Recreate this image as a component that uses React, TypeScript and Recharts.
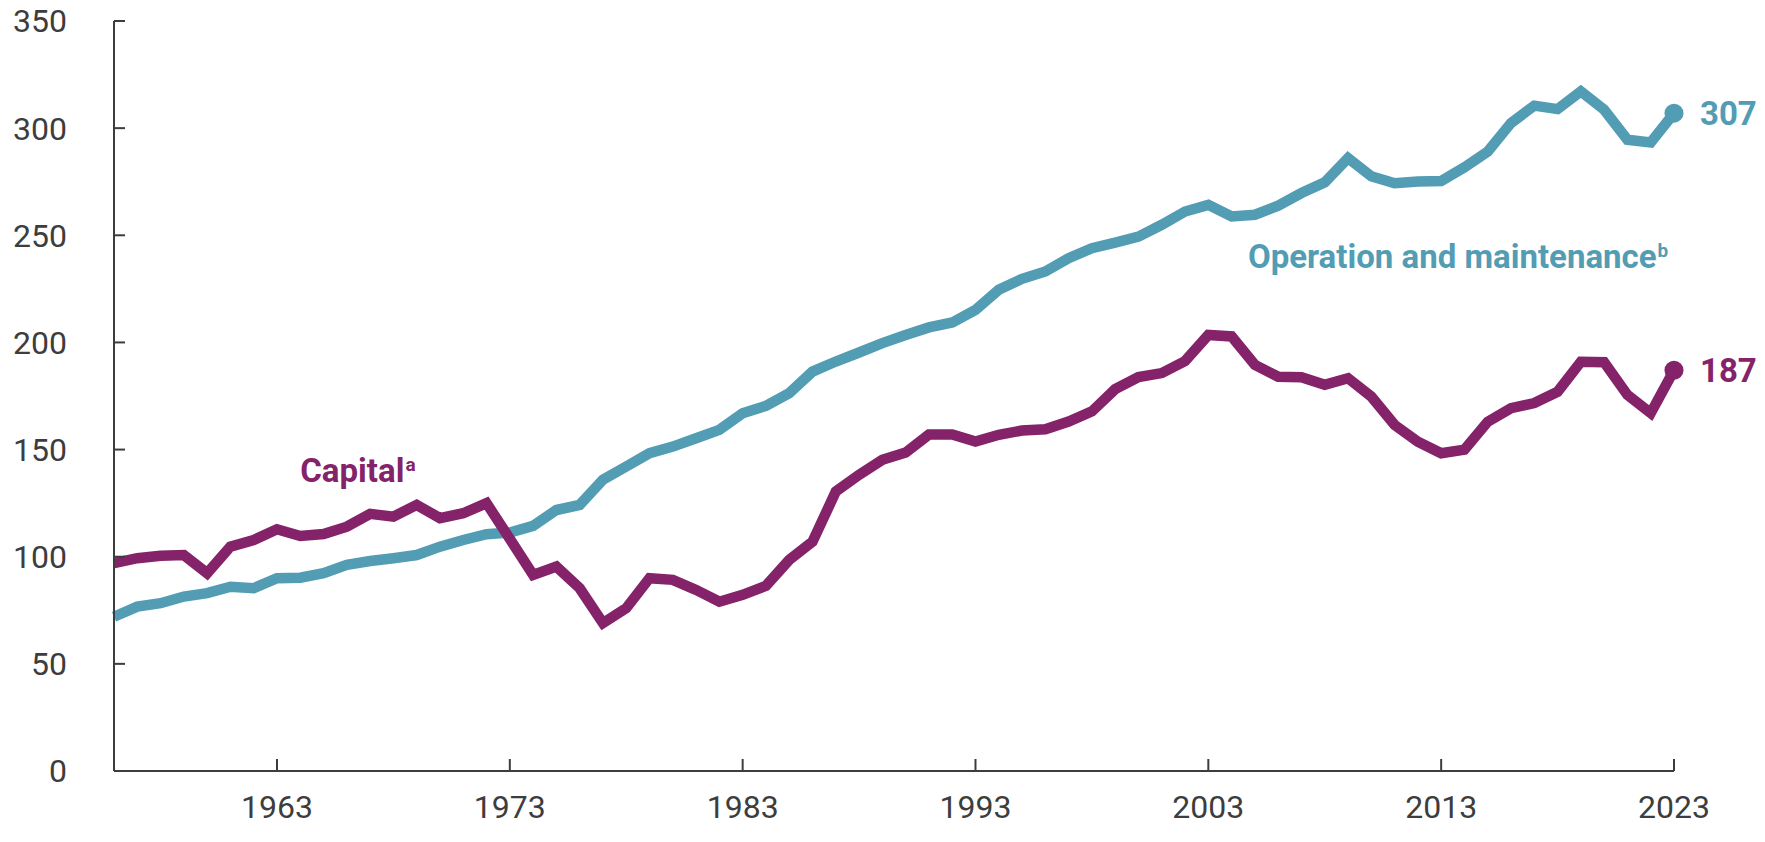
import { LineChart, Line, XAxis, YAxis, ReferenceDot, LabelList } from "recharts";

const years = [
  1956, 1957, 1958, 1959, 1960, 1961, 1962, 1963, 1964, 1965, 1966, 1967, 1968, 1969,
  1970, 1971, 1972, 1973, 1974, 1975, 1976, 1977, 1978, 1979, 1980, 1981, 1982, 1983,
  1984, 1985, 1986, 1987, 1988, 1989, 1990, 1991, 1992, 1993, 1994, 1995, 1996, 1997,
  1998, 1999, 2000, 2001, 2002, 2003, 2004, 2005, 2006, 2007, 2008, 2009, 2010, 2011,
  2012, 2013, 2014, 2015, 2016, 2017, 2018, 2019, 2020, 2021, 2022, 2023,
];

// billions of dollars
const capital = [
  97, 99.3, 100.4, 100.8, 92.3, 104.7, 107.8, 112.8, 109.7, 110.6, 114, 120, 118.7, 124.2,
  118, 120.3, 125, 108.3, 91.5, 95.4, 85.3, 69, 76, 90, 89.2, 84.5, 79, 82.2,
  86.4, 98.5, 107, 130.4, 138.2, 145.2, 148.6, 157, 157, 153.7, 156.9, 158.9, 159.5, 163.1,
  167.8, 178.2, 183.8, 185.7, 191.3, 203.5, 202.8, 189.5, 184, 183.8, 180.2, 183.3, 174.7, 161.5,
  153.7, 148.3, 150, 163, 169.3, 171.7, 177, 191, 190.8, 175.5, 167, 187,
];

const operation = [
  72, 76.7, 78.3, 81.4, 83, 86, 85.3, 90, 90.2, 92.3, 96.2, 98, 99.3, 100.8,
  104.7, 107.8, 110.5, 111.3, 114.4, 121.8, 124.2, 135.9, 142.1, 148.3, 151.4, 155.3, 159.2, 167,
  170.4, 176.3, 186.4, 191.1, 195.3, 199.7, 203.5, 207, 209.3, 215.2, 224.6, 229.7, 233.1, 239.3,
  244, 246.6, 249.4, 254.9, 261.1, 264.2, 258.8, 259.6, 263.8, 269.7, 274.7, 286, 277.5, 274.3,
  275.1, 275.3, 281.7, 289.1, 302.4, 310.5, 308.9, 317.2, 308.6, 294.6, 293.3, 307,
];

const yTicks = [0, 50, 100, 150, 200, 250, 300, 350];
const xTicks = [1963, 1973, 1983, 1993, 2003, 2013, 2023];

const PURPLE = "#84226a";
const TEAL = "#529cb4";
const AXIS = "#3d3d3d";
const FONT = "Roboto, 'Noto Sans', sans-serif";

const data = years.map((year, i) => ({
  year,
  capital: capital[i],
  operation: operation[i],
}));
const last = years.length - 1;

const endDot = (color: string) => (props: any) => {
  const { cx, cy, index } = props;
  if (index !== last) return <g key={`d-${index}`} />;
  return <circle key={`d-${index}`} cx={cx} cy={cy} r={9.5} fill={color} />;
};

const endLabel = (color: string) => (props: any) => {
  const { index, value } = props;
  if (index !== last) return null;
  const x = props.x ?? props.viewBox?.x;
  const y = props.y ?? props.viewBox?.y;
  return (
    <text
      x={x + 26}
      y={y}
      dy="0.36em"
      fill={color}
      fontFamily={FONT}
      fontWeight={700}
      fontSize={33}
    >
      {value}
    </text>
  );
};

const seriesName = (text: string, sup: string, color: string) => (props: any) => {
  const vb = props.viewBox || {};
  const x = vb.x + (vb.width || 0) / 2;
  const y = vb.y + (vb.height || 0) / 2;
  return (
    <text x={x} y={y} fill={color} fontFamily={FONT} fontWeight={700} fontSize={33}>
      {text}
      <tspan fontSize={19} dx={1} dy={-11}>
        {sup}
      </tspan>
    </text>
  );
};

export default function App() {
  return (
    <div style={{ position: "absolute", left: 0, top: 0, background: "#fff" }}>
      <LineChart
        width={1765}
        height={840}
        data={data}
        margin={{ top: 21, right: 91, bottom: 9, left: 0 }}
      >
        <XAxis
          dataKey="year"
          type="number"
          domain={[1956, 2023]}
          ticks={xTicks}
          height={60}
          stroke={AXIS}
          strokeWidth={2}
          tickSize={-12}
          tickMargin={36}
          tick={{ fill: AXIS, fontSize: 32, fontFamily: FONT }}
          interval={0}
        />
        <YAxis
          type="number"
          domain={[0, 350]}
          ticks={yTicks}
          width={114}
          stroke={AXIS}
          strokeWidth={2}
          tickSize={-11}
          tickMargin={58}
          tick={{ fill: AXIS, fontSize: 32, fontFamily: FONT }}
          interval={0}
        />
        <Line
          type="linear"
          dataKey="operation"
          stroke={TEAL}
          strokeWidth={10.5}
          dot={endDot(TEAL)}
          activeDot={false}
          isAnimationActive={false}
        >
          <LabelList dataKey="operation" content={endLabel(TEAL)} />
        </Line>
        <Line
          type="linear"
          dataKey="capital"
          stroke={PURPLE}
          strokeWidth={10.5}
          dot={endDot(PURPLE)}
          activeDot={false}
          isAnimationActive={false}
        >
          <LabelList dataKey="capital" content={endLabel(PURPLE)} />
        </Line>
        <ReferenceDot
          x={1964}
          y={135}
          r={0}
          fill="none"
          stroke="none"
          ifOverflow="visible"
          label={seriesName("Capital", "a", PURPLE)}
        />
        <ReferenceDot
          x={2004.7}
          y={234.6}
          r={0}
          fill="none"
          stroke="none"
          ifOverflow="visible"
          label={seriesName("Operation and maintenance", "b", TEAL)}
        />
      </LineChart>
    </div>
  );
}
